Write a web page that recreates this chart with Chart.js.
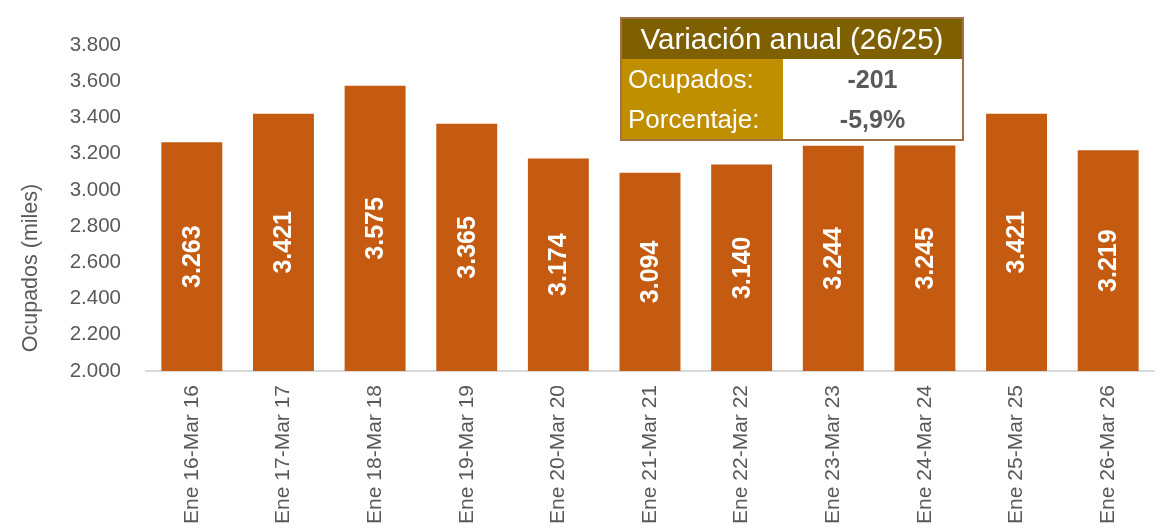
<!DOCTYPE html>
<html>
<head>
<meta charset="utf-8">
<script src="https://cdn.jsdelivr.net/npm/chart.js@4.4.1/dist/chart.umd.min.js"></script>
<style>
    body { margin: 0; background: #fff; font-family: "Liberation Sans", Arial, sans-serif; }
    #wrap { position: relative; width: 1158px; height: 528px; }
    #box {
        position: absolute; left: 620px; top: 17px; width: 344px;
        border-collapse: collapse; border: 2px solid #A0704A;
    }
    #box td { padding: 0; height: 40px; line-height: 40px; }
    #box .head { background: #7F6000; color: #fff; font-size: 29.5px; text-align: center; }
    #box .lab { background: #BF8F00; color: #fff; font-size: 26px; padding-left: 6px; width: 155px; }
    #box .val { background: #fff; color: #595959; font-size: 25px; font-weight: bold; text-align: center; }
</style>
</head>
<body>
<div id="wrap">
    <canvas id="chart" width="1158" height="528"></canvas>
    <table id="box"></table>
</div>
<script>
// Data
const categories = ['Ene 16-Mar 16', 'Ene 17-Mar 17', 'Ene 18-Mar 18', 'Ene 19-Mar 19', 'Ene 20-Mar 20',
    'Ene 21-Mar 21', 'Ene 22-Mar 22', 'Ene 23-Mar 23', 'Ene 24-Mar 24', 'Ene 25-Mar 25', 'Ene 26-Mar 26'];
const ocupados = [3263, 3421, 3575, 3365, 3174, 3094, 3140, 3244, 3245, 3421, 3219];
const yMin = 2000;
const yMax = 3800;
const yStep = 200;
const yTitle = 'Ocupados (miles)';
const resumenTitulo = 'Variación anual (26/25)';
const resumenEtiquetas = ['Ocupados:', 'Porcentaje:'];
const resumenValores = ['-201', '-5,9%'];

const FONT = '"Liberation Sans", Arial, sans-serif';
const GREY = '#595959';

// thousands with a dot, like 3.800
const fmt = v => Math.round(v).toString().replace(/\B(?=(\d{3})+(?!\d))/g, '.');

// summary box
const box = document.getElementById('box');
box.innerHTML = `<tr><td class="head" colspan="2">${resumenTitulo}</td></tr>` +
    resumenEtiquetas.map((l, i) => `<tr><td class="lab">${l}</td><td class="val">${resumenValores[i]}</td></tr>`).join('');

// value labels inside the bars, rotated
const barLabels = {
    id: 'barLabels',
    afterDatasetsDraw(chart) {
        const ctx = chart.ctx;
        const meta = chart.getDatasetMeta(0);
        const bottom = chart.scales.y.getPixelForValue(yMin);
        ctx.save();
        ctx.fillStyle = '#fff';
        ctx.font = `bold 25px ${FONT}`;
        ctx.textAlign = 'center';
        ctx.textBaseline = 'middle';
        meta.data.forEach((bar, i) => {
            ctx.save();
            ctx.translate(bar.x + 1, (bar.y + bottom) / 2);
            ctx.rotate(-Math.PI / 2);
            ctx.fillText(fmt(ocupados[i]), 0, 0);
            ctx.restore();
        });
        ctx.restore();
    }
};

// y axis title, placed where the reference has it
const axisTitle = {
    id: 'axisTitle',
    afterDraw(chart) {
        const ctx = chart.ctx;
        ctx.save();
        ctx.fillStyle = GREY;
        ctx.font = `21.5px ${FONT}`;
        ctx.textAlign = 'center';
        ctx.textBaseline = 'middle';
        ctx.translate(31, 268);
        ctx.rotate(-Math.PI / 2);
        ctx.fillText(yTitle, 0, 0);
        ctx.restore();
    }
};

new Chart(document.getElementById('chart').getContext('2d'), {
    type: 'bar',
    data: {
        labels: categories,
        datasets: [{
            data: ocupados,
            backgroundColor: '#C55A11',
            borderWidth: 0,
            barPercentage: 0.665,
            categoryPercentage: 1
        }]
    },
    options: {
        responsive: false,
        animation: false,
        layout: { padding: { top: 45, right: 4, left: 0, bottom: 0 } },
        plugins: {
            legend: { display: false },
            tooltip: { enabled: false }
        },
        scales: {
            y: {
                min: yMin,
                max: yMax,
                afterFit: s => { s.width = 146; },
                grid: { display: false },
                border: { display: false },
                ticks: {
                    stepSize: yStep,
                    padding: 17,
                    color: GREY,
                    font: { family: FONT, size: 20.5 },
                    callback: v => fmt(v)
                }
            },
            x: {
                afterFit: s => { s.height = 157; },
                grid: { display: false },
                border: { display: true, color: '#D9D9D9', width: 2 },
                ticks: {
                    autoSkip: false,
                    minRotation: 90,
                    maxRotation: 90,
                    padding: 6,
                    color: GREY,
                    font: { family: FONT, size: 21 }
                }
            }
        }
    },
    plugins: [barLabels, axisTitle]
});
</script>
</body>
</html>
